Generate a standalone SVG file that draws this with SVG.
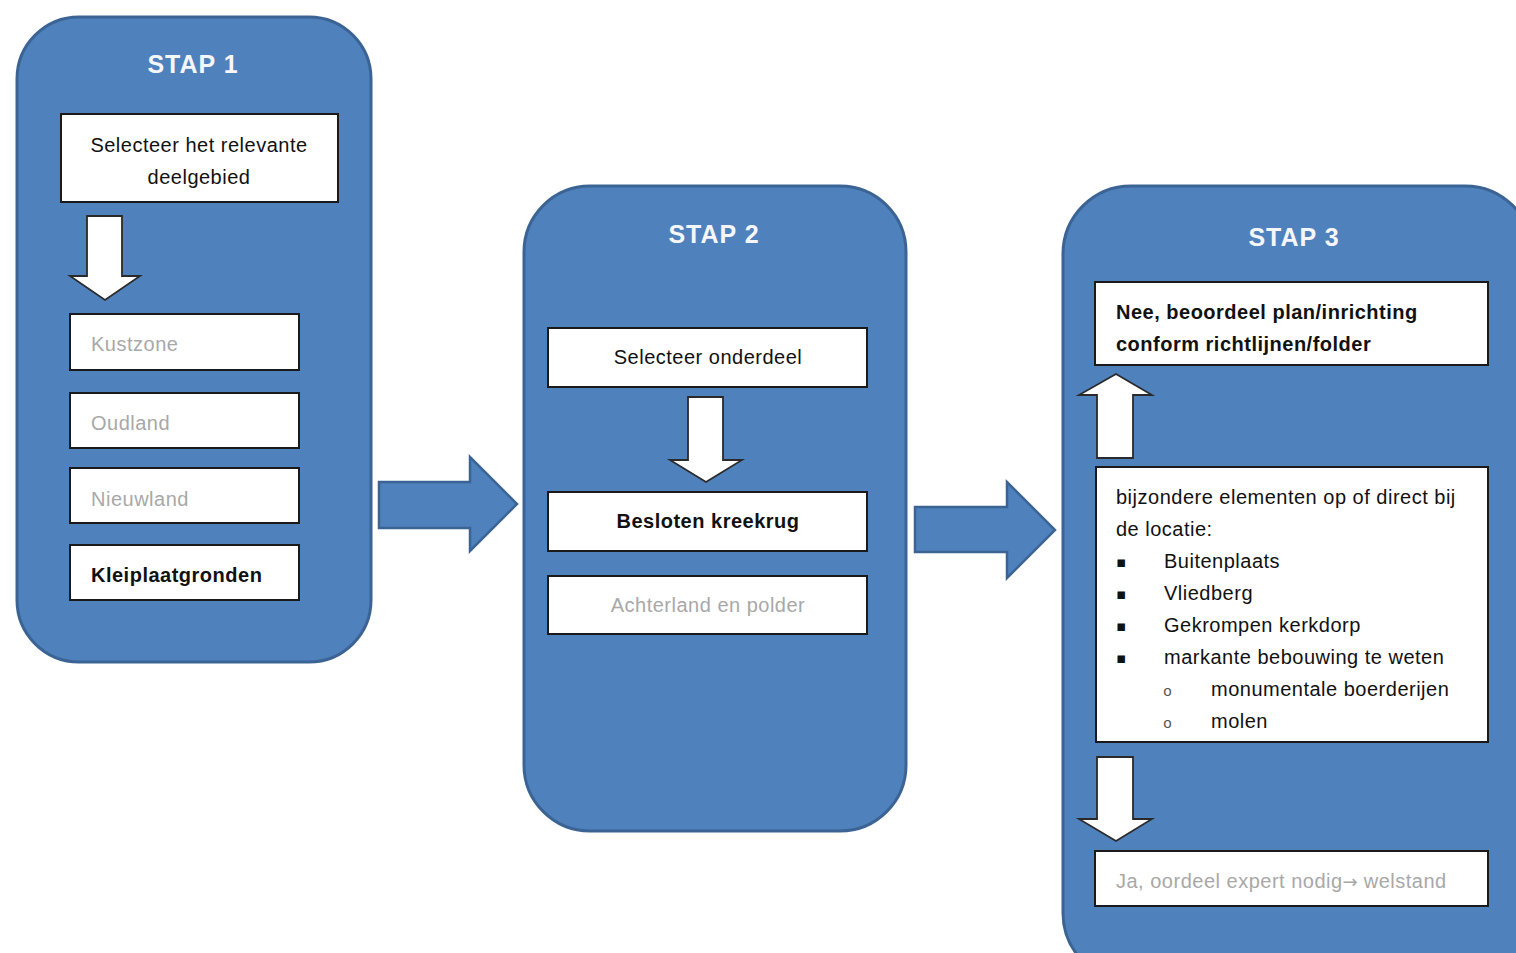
<svg xmlns="http://www.w3.org/2000/svg" width="1516" height="953" viewBox="0 0 1516 953">
<style>
.panel{fill:#4F81BD;stroke:#3B6495;stroke-width:3}
.box{fill:#FFFFFF;stroke:#1A1A1A;stroke-width:2}
.wa{fill:#FFFFFF;stroke:#2A2A2A;stroke-width:1.8;stroke-linejoin:miter}
.ba{fill:#4F81BD;stroke:#3B6495;stroke-width:2.5;stroke-linejoin:miter}
text{font-family:"Liberation Sans",Arial,sans-serif;font-size:20px;fill:#111111;letter-spacing:0.5px}
.title{font-size:25px;font-weight:bold;fill:#F4F6FA;text-anchor:middle;letter-spacing:1px}
.b{font-weight:bold}
.g{fill:#A8A8A8}
.c{text-anchor:middle}
.bul{font-family:"DejaVu Sans",sans-serif;font-size:15px;letter-spacing:0}
.sub{font-family:"Liberation Mono",monospace;font-size:15px;fill:#555555;letter-spacing:0}
.arr{font-family:"DejaVu Sans",sans-serif;font-size:18px;letter-spacing:0}
</style>
<rect width="1516" height="953" fill="#FFFFFF"/>

<g id="stap1">
  <rect class="panel" x="17" y="17" width="354" height="645" rx="62"/>
  <text class="title" x="193" y="73">STAP 1</text>
  <g id="s1-select">
    <rect class="box" x="61" y="114" width="277" height="88"/>
    <text class="c" x="199" y="152">Selecteer het relevante</text>
    <text class="c" x="199" y="184">deelgebied</text>
  </g>
  <g id="s1-kustzone">
    <rect class="box" x="70" y="314" width="229" height="56"/>
    <text class="g" x="91" y="351">Kustzone</text>
  </g>
  <g id="s1-oudland">
    <rect class="box" x="70" y="393" width="229" height="55"/>
    <text class="g" x="91" y="430">Oudland</text>
  </g>
  <g id="s1-nieuwland">
    <rect class="box" x="70" y="468" width="229" height="55"/>
    <text class="g" x="91" y="506">Nieuwland</text>
  </g>
  <g id="s1-kleiplaat">
    <rect class="box" x="70" y="545" width="229" height="55"/>
    <text class="b" x="91" y="582">Kleiplaatgronden</text>
  </g>
</g>

<g id="stap2">
  <rect class="panel" x="524" y="186" width="382" height="645" rx="66"/>
  <text class="title" x="714" y="243">STAP 2</text>
  <g id="s2-select">
    <rect class="box" x="548" y="328" width="319" height="59"/>
    <text class="c" x="708" y="364">Selecteer onderdeel</text>
  </g>
  <g id="s2-besloten">
    <rect class="box" x="548" y="492" width="319" height="59"/>
    <text class="c b" x="708" y="528">Besloten kreekrug</text>
  </g>
  <g id="s2-achterland">
    <rect class="box" x="548" y="576" width="319" height="58"/>
    <text class="c g" x="708" y="612">Achterland en polder</text>
  </g>
</g>

<g id="stap3">
  <rect class="panel" x="1063" y="186" width="470" height="795" rx="68"/>
  <text class="title" x="1294" y="246">STAP 3</text>
  <g id="s3-nee">
    <rect class="box" x="1095" y="282" width="393" height="83"/>
    <text class="b" x="1116" y="319">Nee, beoordeel plan/inrichting</text>
    <text class="b" x="1116" y="351">conform richtlijnen/folder</text>
  </g>
  <g id="s3-elementen">
    <rect class="box" x="1096" y="467" width="392" height="275"/>
    <text x="1116" y="504">bijzondere elementen op of direct bij</text>
    <text x="1116" y="536">de locatie:</text>
    <text class="bul" x="1116" y="567">▪</text>
    <text x="1164" y="568">Buitenplaats</text>
    <text class="bul" x="1116" y="599">▪</text>
    <text x="1164" y="600">Vliedberg</text>
    <text class="bul" x="1116" y="631">▪</text>
    <text x="1164" y="632">Gekrompen kerkdorp</text>
    <text class="bul" x="1116" y="663">▪</text>
    <text x="1164" y="664">markante bebouwing te weten</text>
    <text class="sub" x="1163" y="696">o</text>
    <text x="1211" y="696">monumentale boerderijen</text>
    <text class="sub" x="1163" y="728">o</text>
    <text x="1211" y="728">molen</text>
  </g>
  <g id="s3-ja">
    <rect class="box" x="1095" y="851" width="393" height="55"/>
    <text class="g" x="1116" y="888">Ja, oordeel expert nodig<tspan class="arr">→</tspan> welstand</text>
  </g>
</g>

<g id="connectors">
  <polygon class="wa" points="87,216 122,216 122,276 140,276 105,300 70,276 87,276"/>
  <polygon class="wa" points="688,397 723,397 723,460 742,460 706,482 670,460 688,460"/>
  <polygon class="wa" points="1097,458 1133,458 1133,395 1152,395 1116,374 1079,395 1097,395"/>
  <polygon class="wa" points="1097,757 1133,757 1133,819 1152,819 1116,841 1079,819 1097,819"/>
  <polygon class="ba" points="379,482 470,482 470,457 517,504 470,551 470,528 379,528"/>
  <polygon class="ba" points="915,507 1007,507 1007,482 1055,530 1007,578 1007,552 915,552"/>
</g>
</svg>
